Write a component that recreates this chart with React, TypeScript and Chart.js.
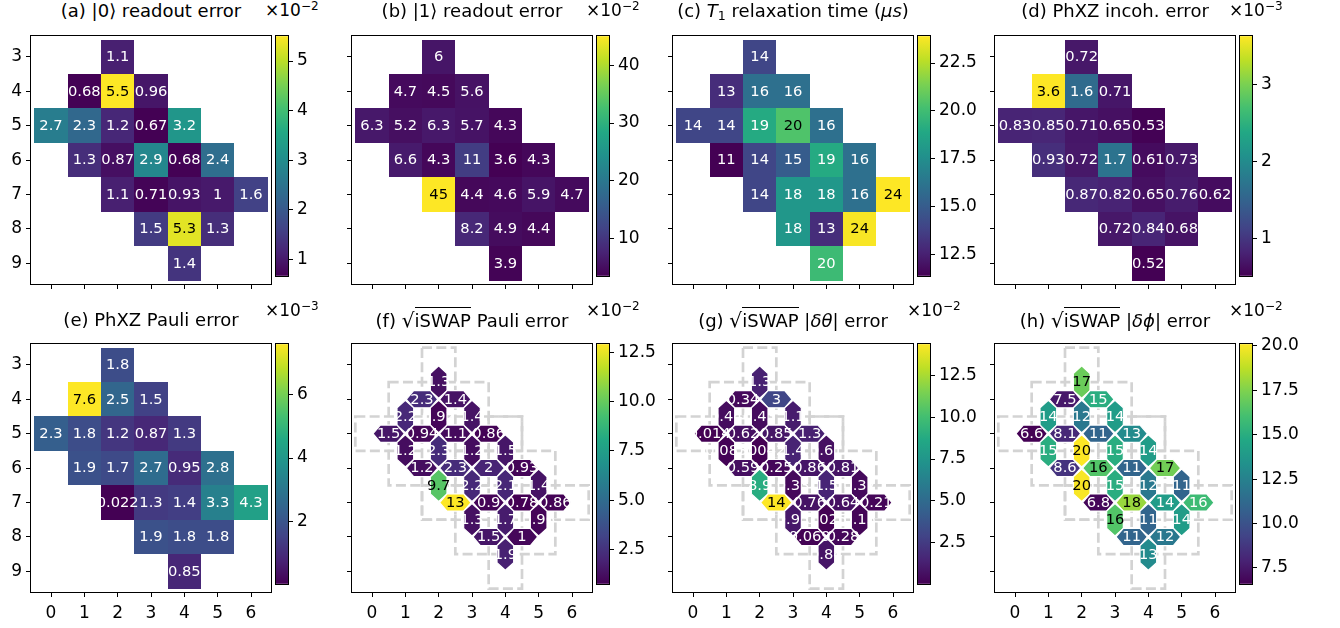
import React, { useEffect, useRef } from 'react';
import { Chart, registerables } from 'chart.js';

Chart.register(...registerables);

const FONT = "'DejaVu Sans', 'Liberation Sans', sans-serif";
Chart.defaults.font.family = FONT;
Chart.defaults.color = '#000';

// ---------------- data ----------------
// qubit grid positions (row = y, col = x)
const qubitRows = [3, 4, 4, 4, 5, 5, 5, 5, 5, 6, 6, 6, 6, 6, 7, 7, 7, 7, 7, 8, 8, 8, 9];
const qubitCols = [2, 1, 2, 3, 0, 1, 2, 3, 4, 1, 2, 3, 4, 5, 2, 3, 4, 5, 6, 3, 4, 5, 4];

// single-qubit metrics (same order as qubitRows / qubitCols)
const readout0Values = [1.1, 0.68, 5.5, 0.96, 2.7, 2.3, 1.2, 0.67, 3.2, 1.3, 0.87, 2.9, 0.68, 2.4, 1.1, 0.71, 0.93, 1.0, 1.6, 1.5, 5.3, 1.3, 1.4];
const readout1Values = [6.0, 4.7, 4.5, 5.6, 6.3, 5.2, 6.3, 5.7, 4.3, 6.6, 4.3, 11, 3.6, 4.3, 45, 4.4, 4.6, 5.9, 4.7, 8.2, 4.9, 4.4, 3.9];
const t1Values = [14, 13, 16, 16, 14, 14, 19, 20.4, 16, 11.4, 14, 15, 19, 16, 14, 18, 18, 16, 23.9, 18, 13, 23.8, 19.9];
const phxzIncohValues = [0.72, 3.63, 1.6, 0.71, 0.83, 0.85, 0.71, 0.65, 0.53, 0.93, 0.72, 1.7, 0.61, 0.73, 0.87, 0.82, 0.65, 0.76, 0.62, 0.72, 0.84, 0.68, 0.52];
const phxzPauliValues = [1.8, 7.6, 2.5, 1.5, 2.3, 1.8, 1.2, 0.87, 1.3, 1.9, 1.7, 2.7, 0.95, 2.8, 0.022, 1.3, 1.4, 3.3, 4.3, 1.9, 1.8, 1.8, 0.85];

// two-qubit couplers: [row1, col1, row2, col2]
const couplerPairs: number[][] = [
  [3, 2, 4, 2], [4, 1, 4, 2], [4, 2, 4, 3], [4, 1, 5, 1], [4, 2, 5, 2], [4, 3, 5, 3],
  [5, 0, 5, 1], [5, 1, 5, 2], [5, 2, 5, 3], [5, 3, 5, 4],
  [5, 1, 6, 1], [5, 2, 6, 2], [5, 3, 6, 3], [5, 4, 6, 4],
  [6, 1, 6, 2], [6, 2, 6, 3], [6, 3, 6, 4], [6, 4, 6, 5],
  [6, 2, 7, 2], [6, 3, 7, 3], [6, 4, 7, 4], [6, 5, 7, 5],
  [7, 2, 7, 3], [7, 3, 7, 4], [7, 4, 7, 5], [7, 5, 7, 6],
  [7, 3, 8, 3], [7, 4, 8, 4], [7, 5, 8, 5],
  [8, 3, 8, 4], [8, 4, 8, 5], [8, 4, 9, 4],
];
const iswapPauliValues = [1.3, 2.3, 1.4, 2.2, 0.92, 1.4, 1.5, 0.94, 1.1, 0.86, 1.2, 2.3, 1.2, 1.5, 1.2, 2.3, 2.0, 0.93, 9.7, 2.2, 2.1, 1.4, 12.9, 0.9, 0.78, 0.86, 1.3, 1.7, 0.96, 1.5, 1.0, 1.9];
const iswapThetaValues = [1.3, 0.34, 3.0, 0.44, 0.43, 1.1, 0.014, 0.62, 0.85, 1.3, 0.083, 0.0042, 1.4, 0.61, 0.59, 0.25, 0.86, 0.81, 8.9, 0.33, 1.5, 0.37, 14.4, 0.76, 0.64, 0.21, 0.95, 0.025, 0.15, 0.069, 0.28, 0.84];
const iswapPhiValues = [17, 7.5, 15, 14, 12, 14, 6.6, 8.1, 11, 13, 15, 20.1, 15, 14, 8.6, 16.4, 11, 17.2, 20, 15, 12, 11, 6.8, 18, 14, 15.8, 16.4, 11, 14, 11, 12, 13];

// qubit groups outlined with dashed boxes: [rowMin, rowMax, colMin, colMax]
const layoutGroups: number[][] = [[3, 7, 2, 2], [4, 6, 1, 3], [5, 5, 0, 4], [6, 8, 3, 5], [7, 7, 2, 6], [5, 9, 4, 4]];

// tick labels
const xTickValues = [0, 1, 2, 3, 4, 5, 6];
const yTickValues = [3, 4, 5, 6, 7, 8, 9];
const cbTicksA = [1, 2, 3, 4, 5];
const cbTicksB = [10, 20, 30, 40];
const cbTicksC = [12.5, 15, 17.5, 20, 22.5];
const cbTicksD = [1, 2, 3];
const cbTicksE = [2, 4, 6];
const cbTicksF = [2.5, 5, 7.5, 10, 12.5];
const cbTicksG = [2.5, 5, 7.5, 10, 12.5];
const cbTicksH = [7.5, 10, 12.5, 15, 17.5, 20];

// ---------------- colour helpers ----------------
const VIRIDIS = ['#440154', '#482475', '#414487', '#355f8d', '#2a788e', '#21918c', '#22a884', '#44bf70', '#7ad151', '#bddf26', '#fde725'];
const hexToRgb = (h: string) => [parseInt(h.slice(1, 3), 16), parseInt(h.slice(3, 5), 16), parseInt(h.slice(5, 7), 16)];
const VIR_RGB = VIRIDIS.map(hexToRgb);
function viridis(t: number): number[] {
  const tt = Math.max(0, Math.min(1, t));
  const s = tt * 10;
  const i = Math.min(9, Math.floor(s));
  const f = s - i;
  const a = VIR_RGB[i], b = VIR_RGB[i + 1];
  return [0, 1, 2].map((k) => a[k] + (b[k] - a[k]) * f);
}
const rgbStr = (c: number[]) => `rgb(${Math.round(c[0])},${Math.round(c[1])},${Math.round(c[2])})`;
function luminance(c: number[]) {
  const f = (v: number) => {
    const x = v / 255;
    return x <= 0.03928 ? x / 12.92 : Math.pow((x + 0.055) / 1.055, 2.4);
  };
  return 0.2126 * f(c[0]) + 0.7152 * f(c[1]) + 0.0722 * f(c[2]);
}
const fmt2g = (v: number) => String(Number(v.toPrecision(2)));

// ---------------- layout ----------------
const COL_LEFT = [31, 352, 673, 995];
const ROW_TOP = [28, 336];
const PLOT_W = 240;
const PLOT_H = 256;
const AX_L = 45;
const AX_B = 40;
const PAD_T = 6;
const PAD_R = 3;
const CB_GAP = 5;
const CB_W = 12;
const CB_AX = 60;
const TITLE_TOP = [2, 311];
const OFFSET_TOP = [2, 302];
const X_RANGE = [-0.6, 6.6];
const Y_RANGE = [2.4, 9.6];
const ANNOT_FS = 14.7;

type Spec = {
  key: string;
  r: number;
  c: number;
  kind: 'qubit' | 'coupler';
  values: number[];
  cbTicks: number[];
  cbFixed: boolean;
  exp: string | null;
};

const specs: Spec[] = [
  { key: 'a', r: 0, c: 0, kind: 'qubit', values: readout0Values, cbTicks: cbTicksA, cbFixed: false, exp: '−2' },
  { key: 'b', r: 0, c: 1, kind: 'qubit', values: readout1Values, cbTicks: cbTicksB, cbFixed: false, exp: '−2' },
  { key: 'c', r: 0, c: 2, kind: 'qubit', values: t1Values, cbTicks: cbTicksC, cbFixed: true, exp: null },
  { key: 'd', r: 0, c: 3, kind: 'qubit', values: phxzIncohValues, cbTicks: cbTicksD, cbFixed: false, exp: '−3' },
  { key: 'e', r: 1, c: 0, kind: 'qubit', values: phxzPauliValues, cbTicks: cbTicksE, cbFixed: false, exp: '−3' },
  { key: 'f', r: 1, c: 1, kind: 'coupler', values: iswapPauliValues, cbTicks: cbTicksF, cbFixed: true, exp: '−2' },
  { key: 'g', r: 1, c: 2, kind: 'coupler', values: iswapThetaValues, cbTicks: cbTicksG, cbFixed: true, exp: '−2' },
  { key: 'h', r: 1, c: 3, kind: 'coupler', values: iswapPhiValues, cbTicks: cbTicksH, cbFixed: true, exp: '−2' },
];

const Sqrt = () => (
  <>
    <span style={{ fontSize: '1.12em' }}>√</span>
    <span style={{ borderTop: '1.3px solid #000', paddingTop: 2 }}>iSWAP</span>
  </>
);

const titleNodes: Record<string, React.ReactNode> = {
  a: <>(a) |0⟩ readout error</>,
  b: <>(b) |1⟩ readout error</>,
  c: (
    <>
      (c) <i>T</i>
      <span style={{ fontSize: '0.7em', position: 'relative', top: '0.25em' }}>1</span> relaxation time (<i>μs</i>)
    </>
  ),
  d: <>(d) PhXZ incoh. error</>,
  e: <>(e) PhXZ Pauli error</>,
  f: <>(f) <Sqrt /> Pauli error</>,
  g: <>(g) <Sqrt /> |<i>δθ</i>| error</>,
  h: <>(h) <Sqrt /> |<i>δϕ</i>| error</>,
};

// ---------------- chart builders ----------------
function makeHeatPlugin(spec: Spec, vmin: number, vmax: number) {
  return {
    id: 'heat_' + spec.key,
    beforeDatasetsDraw(chart: any) {
      const ctx: CanvasRenderingContext2D = chart.ctx;
      const xs = chart.scales.x;
      const ys = chart.scales.y;
      const X = (v: number) => xs.getPixelForValue(v);
      const Y = (v: number) => ys.getPixelForValue(v);
      const pts: any[] = chart.data.datasets[0].data;
      const colorOf = (v: number) => viridis((v - vmin) / (vmax - vmin));
      ctx.save();
      if (spec.kind === 'qubit') {
        for (const d of pts) {
          const x0 = Math.round(X(d.x - 0.5));
          const x1 = Math.round(X(d.x + 0.5));
          const y0 = Math.round(Y(d.y - 0.5));
          const y1 = Math.round(Y(d.y + 0.5));
          ctx.fillStyle = rgbStr(colorOf(d.v));
          ctx.fillRect(Math.min(x0, x1), Math.min(y0, y1), Math.abs(x1 - x0), Math.abs(y1 - y0));
        }
      } else {
        ctx.strokeStyle = '#d3d3d3';
        ctx.lineWidth = 2.7;
        ctx.setLineDash([10, 4.3]);
        for (const g of layoutGroups) {
          const [rMin, rMax, cMin, cMax] = g;
          const x0 = X(cMin - 0.5), x1 = X(cMax + 0.5), y0 = Y(rMin - 0.5), y1 = Y(rMax + 0.5);
          ctx.strokeRect(x0, y0, x1 - x0, y1 - y0);
        }
        ctx.setLineDash([]);
        const m = 0.03, w = 0.25, s = 0.25;
        for (const d of pts) {
          let poly: number[][];
          if (d.vert) {
            const c = d.x, r1 = d.y - 0.5, r2 = d.y + 0.5;
            poly = [[c, r1 + m], [c + w, r1 + s], [c + w, r2 - s], [c, r2 - m], [c - w, r2 - s], [c - w, r1 + s]];
          } else {
            const r = d.y, c1 = d.x - 0.5, c2 = d.x + 0.5;
            poly = [[c1 + m, r], [c1 + s, r - w], [c2 - s, r - w], [c2 - m, r], [c2 - s, r + w], [c1 + s, r + w]];
          }
          ctx.beginPath();
          poly.forEach((p, i) => (i ? ctx.lineTo(X(p[0]), Y(p[1])) : ctx.moveTo(X(p[0]), Y(p[1]))));
          ctx.closePath();
          ctx.fillStyle = rgbStr(colorOf(d.v));
          ctx.fill();
          ctx.strokeStyle = '#ffffff';
          ctx.lineWidth = 1.2;
          ctx.stroke();
        }
      }
      const fs = ANNOT_FS;
      ctx.font = `${fs}px ${FONT}`;
      ctx.textAlign = 'center';
      ctx.textBaseline = 'alphabetic';
      for (const d of pts) {
        const col = colorOf(d.v);
        ctx.fillStyle = luminance(col) > 0.4 ? '#000000' : '#ffffff';
        ctx.fillText(fmt2g(d.v), X(d.x), Y(d.y) + 0.365 * fs - 1);
      }
      ctx.restore();
    },
    afterDraw(chart: any) {
      const { left, top, right, bottom } = chart.chartArea;
      const ctx = chart.ctx;
      ctx.save();
      ctx.strokeStyle = '#000';
      ctx.lineWidth = 1;
      ctx.strokeRect(Math.round(left) - 0.5, Math.round(top) - 0.5, Math.round(right - left) + 1, Math.round(bottom - top) + 1);
      ctx.restore();
    },
  };
}

function makeColorbarPlugin(key: string) {
  return {
    id: 'cb_' + key,
    beforeDatasetsDraw(chart: any) {
      const { left, top, right, bottom } = chart.chartArea;
      const ctx: CanvasRenderingContext2D = chart.ctx;
      const grad = ctx.createLinearGradient(0, bottom, 0, top);
      VIRIDIS.forEach((c, i) => grad.addColorStop(i / (VIRIDIS.length - 1), c));
      ctx.save();
      ctx.fillStyle = grad;
      ctx.fillRect(left, top, right - left, bottom - top);
      ctx.restore();
    },
    afterDraw(chart: any) {
      const { left, top, right, bottom } = chart.chartArea;
      const ctx = chart.ctx;
      ctx.save();
      ctx.strokeStyle = '#000';
      ctx.lineWidth = 1;
      ctx.strokeRect(Math.round(left) - 0.5, Math.round(top) - 0.5, Math.round(right - left) + 1, Math.round(bottom - top) + 1);
      ctx.restore();
    },
  };
}

const tickGrid = { display: true, drawOnChartArea: false, drawTicks: true, tickLength: 5, tickWidth: 1, color: '#000', tickColor: '#000' };

function buildMain(canvas: HTMLCanvasElement, spec: Spec) {
  const vals = spec.values;
  const vmin = Math.min(...vals);
  const vmax = Math.max(...vals);
  const showX = spec.r === 1;
  const showY = spec.c === 0;
  const data =
    spec.kind === 'qubit'
      ? qubitRows.map((row, i) => ({ x: qubitCols[i], y: row, v: vals[i] }))
      : couplerPairs.map(([r1, c1, r2, c2], i) => ({ x: (c1 + c2) / 2, y: (r1 + r2) / 2, v: vals[i], vert: r1 !== r2 }));
  return new Chart(canvas, {
    type: 'scatter',
    data: { datasets: [{ data, pointRadius: 0, pointHoverRadius: 0, showLine: false }] as any },
    options: {
      animation: false,
      responsive: false,
      devicePixelRatio: 1,
      events: [],
      layout: { padding: { top: PAD_T, right: PAD_R, left: 0, bottom: 0 } },
      plugins: { legend: { display: false }, tooltip: { enabled: false } },
      scales: {
        x: {
          type: 'linear',
          min: X_RANGE[0],
          max: X_RANGE[1],
          bounds: 'data',
          afterBuildTicks: (s: any) => {
            s.ticks = xTickValues.map((v) => ({ value: v }));
          },
          afterFit: (s: any) => {
            s.height = AX_B;
          },
          grid: tickGrid,
          border: { display: false },
          ticks: {
            autoSkip: false,
            maxRotation: 0,
            minRotation: 0,
            padding: 6,
            color: '#000',
            font: { size: 17, family: FONT },
            callback: (v: any) => (showX ? String(v) : ''),
          },
        },
        y: {
          type: 'linear',
          reverse: true,
          min: Y_RANGE[0],
          max: Y_RANGE[1],
          bounds: 'data',
          afterBuildTicks: (s: any) => {
            s.ticks = yTickValues.map((v) => ({ value: v }));
          },
          afterFit: (s: any) => {
            s.width = AX_L;
          },
          grid: tickGrid,
          border: { display: false },
          ticks: {
            autoSkip: false,
            padding: 4,
            color: '#000',
            font: { size: 17, family: FONT },
            callback: (v: any) => (showY ? String(v) : ''),
          },
        },
      },
    } as any,
    plugins: [makeHeatPlugin(spec, vmin, vmax)],
  });
}

function buildColorbar(canvas: HTMLCanvasElement, spec: Spec) {
  const vmin = Math.min(...spec.values);
  const vmax = Math.max(...spec.values);
  return new Chart(canvas, {
    type: 'scatter',
    data: { datasets: [{ data: [], pointRadius: 0 }] },
    options: {
      animation: false,
      responsive: false,
      devicePixelRatio: 1,
      events: [],
      layout: { padding: { top: PAD_T, bottom: PAD_T, left: 1, right: 0 } },
      plugins: { legend: { display: false }, tooltip: { enabled: false } },
      scales: {
        x: { type: 'linear', display: false, min: 0, max: 1 },
        y: {
          type: 'linear',
          position: 'right',
          min: vmin,
          max: vmax,
          bounds: 'data',
          afterBuildTicks: (s: any) => {
            s.ticks = spec.cbTicks.map((v) => ({ value: v }));
          },
          afterFit: (s: any) => {
            s.width = CB_AX;
          },
          grid: tickGrid,
          border: { display: false },
          ticks: {
            autoSkip: false,
            padding: 4,
            color: '#000',
            font: { size: 17, family: FONT },
            callback: (v: any) => (spec.cbFixed ? Number(v).toFixed(1) : String(v)),
          },
        },
      },
    } as any,
    plugins: [makeColorbarPlugin(spec.key)],
  });
}

function Panel({ spec }: { spec: Spec }) {
  const mainRef = useRef<HTMLCanvasElement>(null);
  const cbRef = useRef<HTMLCanvasElement>(null);
  const plotLeft = COL_LEFT[spec.c];
  const plotTop = ROW_TOP[spec.r];
  const mainW = AX_L + PLOT_W + PAD_R;
  const mainH = PAD_T + PLOT_H + AX_B;
  const cbLeft = plotLeft + PLOT_W + CB_GAP;
  const cbW = 1 + CB_W + CB_AX;
  const cbH = PAD_T + PLOT_H + PAD_T;

  useEffect(() => {
    const charts: Chart[] = [];
    if (mainRef.current) charts.push(buildMain(mainRef.current, spec));
    if (cbRef.current) charts.push(buildColorbar(cbRef.current, spec));
    return () => charts.forEach((c) => c.destroy());
  }, []);

  return (
    <>
      <canvas
        ref={mainRef}
        width={mainW}
        height={mainH}
        style={{ position: 'absolute', left: plotLeft - AX_L, top: plotTop - PAD_T, width: mainW, height: mainH }}
      />
      <canvas
        ref={cbRef}
        width={cbW}
        height={cbH}
        style={{ position: 'absolute', left: cbLeft - 1, top: plotTop - PAD_T, width: cbW, height: cbH }}
      />
      <div
        style={{
          position: 'absolute',
          left: plotLeft - 40,
          width: PLOT_W + 80,
          top: TITLE_TOP[spec.r],
          textAlign: 'center',
          fontFamily: FONT,
          fontSize: 18,
          lineHeight: '18px',
          whiteSpace: 'nowrap',
          color: '#000',
        }}
      >
        {titleNodes[spec.key]}
      </div>
      {spec.exp && (
        <div
          style={{
            position: 'absolute',
            left: cbLeft - 11,
            top: OFFSET_TOP[spec.r],
            fontFamily: FONT,
            fontSize: 17,
            lineHeight: '17px',
            whiteSpace: 'nowrap',
            color: '#000',
          }}
        >
          ×10
          <span style={{ fontSize: 12, position: 'relative', top: -6 }}>{spec.exp}</span>
        </div>
      )}
    </>
  );
}

export default function App() {
  return (
    <div
      style={{
        position: 'absolute',
        left: 0,
        top: 0,
        width: 1340,
        height: 628,
        background: '#ffffff',
        overflow: 'hidden',
      }}
    >
      {specs.map((s) => (
        <Panel key={s.key} spec={s} />
      ))}
    </div>
  );
}
